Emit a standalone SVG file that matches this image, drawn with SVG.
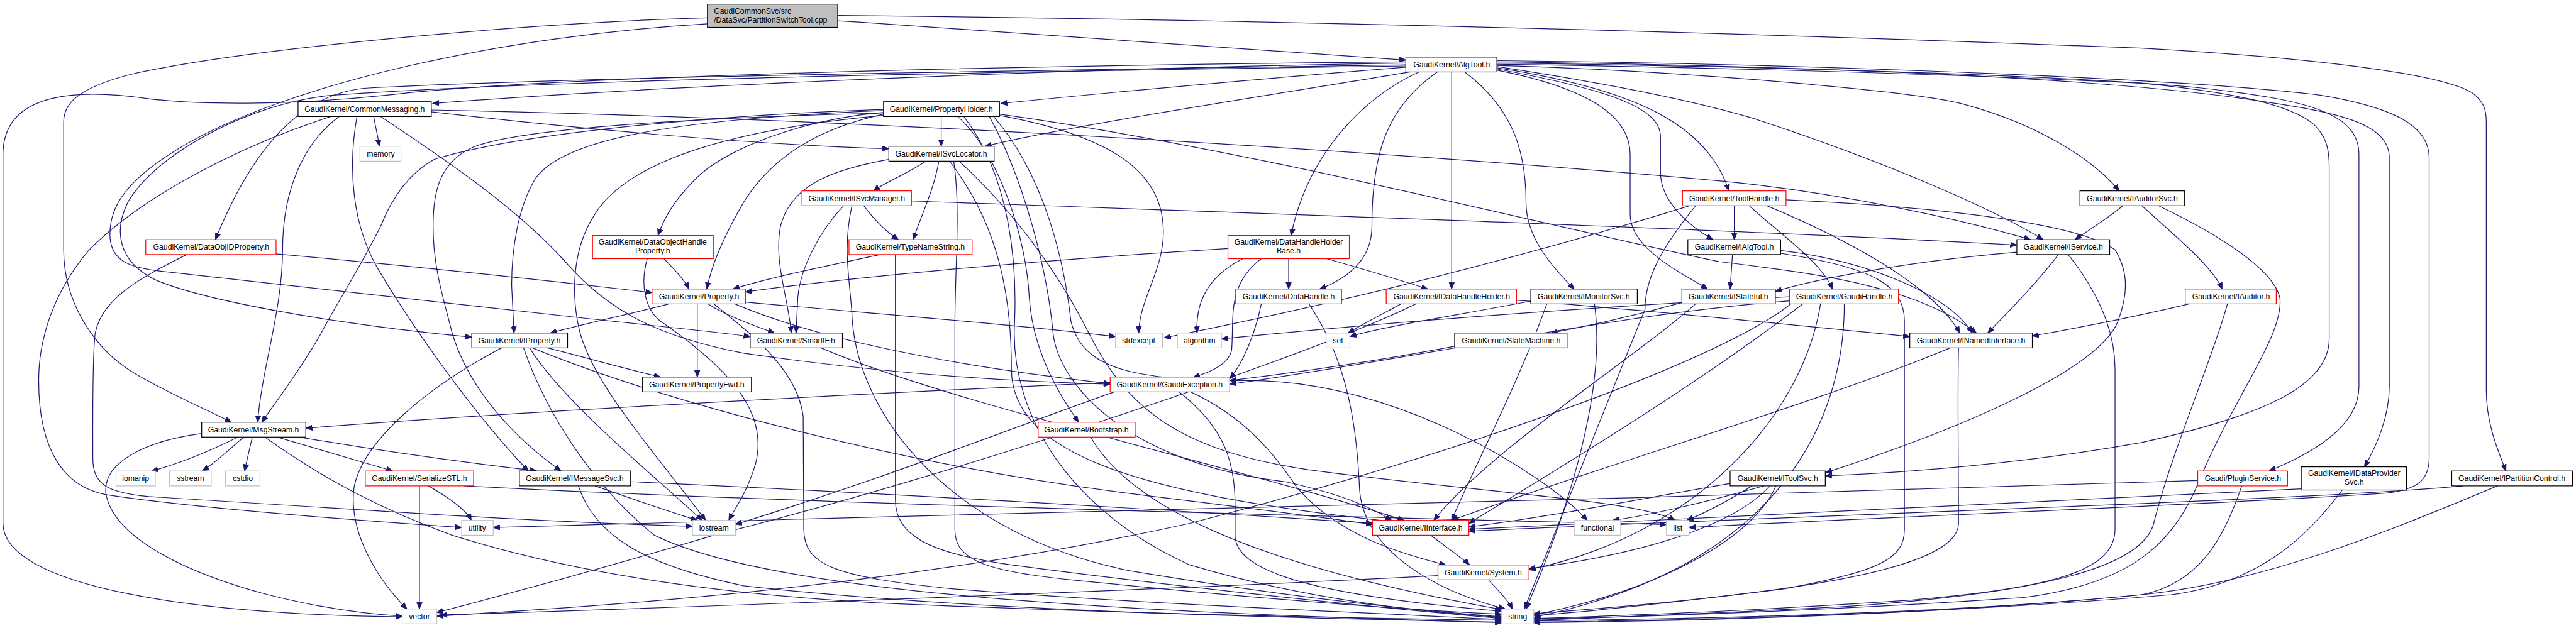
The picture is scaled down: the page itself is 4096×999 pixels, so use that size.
<svg xmlns="http://www.w3.org/2000/svg" width="4096" height="999" viewBox="0 0 4096 999">
<style>
.nd rect{fill:#fff;stroke:#000;stroke-width:1.3}
.rd rect{fill:#fff;stroke:#ff0000;stroke-width:1.3}
.gy rect{fill:#fff;stroke:#bfbfbf;stroke-width:1.3}
.rt rect{fill:#bfbfbf;stroke:#000;stroke-width:1.3}
text{font-family:"Liberation Sans",Arial,sans-serif;font-size:13px;text-anchor:middle;fill:#000}
.lt{text-anchor:start}
#edges path{fill:none;stroke:#191970;stroke-width:1.3;marker-end:url(#a)}
</style>
<defs>
<marker id="a" markerUnits="userSpaceOnUse" markerWidth="12" markerHeight="10" refX="11" refY="4.5" orient="auto" viewBox="0 0 12 9"><path d="M0,0L11,4.5L0,9z" fill="#191970" stroke="#191970" stroke-width="1"/></marker>
</defs>
<rect width="4096" height="999" fill="#fff"/>
<g transform="scale(0.946)">
<g id="edges">
<path d="M1408,35 C1800,60 2200,88 2363,101"/>
<path d="M1408,26 C2200,34 3000,58 3600,81 C3900,98 4110,125 4158,158 C4175,172 4179,185 4179,205 L4179,655 C4179,715 4200,760 4212,792"/>
<path d="M1189,30 C900,38 420,80 220,125 C130,148 107,175 107,205 L107,420 C107,510 160,590 230,630 C290,665 350,690 389,710"/>
<path d="M1189,40 C850,60 480,140 300,250 C210,305 182,350 185,400 C188,440 220,450 270,456 L1000,537 C1140,552 1220,560 1261,566"/>
<path d="M2363,106 C1800,115 1100,145 727,174"/>
<path d="M2363,113 C2150,130 1900,152 1682,174"/>
<path d="M2370,121 C2200,150 1800,210 1656,246"/>
<path d="M2363,109 C1800,118 1000,128 620,148 C500,155 420,260 362,403"/>
<path d="M2363,104 C1500,112 850,135 650,160 C480,178 330,176 250,166 C140,150 5,150 5,260 L5,880 C5,985 320,1034 676,1037"/>
<path d="M2363,111 C1700,120 900,135 560,160 C420,172 260,260 215,340 C190,390 200,440 260,470 C340,505 560,545 793,567"/>
<path d="M2385,121 C2300,160 2200,250 2170,396"/>
<path d="M2416,121 C2330,180 2306,260 2306,380 C2306,440 2260,470 2218,486"/>
<path d="M2440,121 L2440,486"/>
<path d="M2462,121 C2540,180 2565,250 2565,340 C2565,400 2610,450 2646,486"/>
<path d="M2516,118 C2680,150 2740,200 2740,260 L2740,360 C2740,420 2830,460 2870,486"/>
<path d="M2516,116 C2700,150 2791,180 2791,230 L2791,290 C2791,340 2840,380 2879,403"/>
<path d="M2516,114 C2750,150 2870,210 2906,321"/>
<path d="M2516,112 C2700,140 2850,170 2950,200 C3150,265 3350,350 3434,403"/>
<path d="M2516,110 C2800,118 3200,150 3300,175 C3430,210 3520,270 3562,321"/>
<path d="M2516,108 C3000,115 3400,130 3600,140 C3750,155 3850,175 3890,210 C3910,230 3915,250 3915,280 L3915,570 C3915,650 3800,700 3600,744 C3400,780 3200,795 3068,800"/>
<path d="M2516,106 C3000,112 3500,128 3700,148 C3880,168 3965,190 3965,260 L3965,650 C3965,720 3880,765 3814,792"/>
<path d="M2516,104 C3100,112 3550,132 3800,170 C3920,188 4016,205 4016,265 L4016,650 C4016,700 3995,750 3974,785"/>
<path d="M2516,102 C3100,108 3700,135 3900,160 C4020,180 4083,210 4083,265 L4083,770 C4083,810 4060,826 4000,830 C3700,850 3100,872 2839,887"/>
<path d="M628,196 L638,246"/>
<path d="M570,196 C510,240 475,320 475,420 C475,520 440,620 433,710"/>
<path d="M725,188 C1000,220 1300,245 1494,250"/>
<path d="M725,185 C1500,200 2400,260 2900,305 C3100,325 3300,370 3413,403"/>
<path d="M556,196 C420,240 250,320 150,420 C90,490 65,570 65,640 C65,760 110,820 180,832 C330,855 600,875 776,887"/>
<path d="M600,196 C585,280 590,380 640,460 C700,560 800,700 888,792"/>
<path d="M640,196 C720,250 860,340 950,440 C1020,520 1100,565 1250,594 C1500,630 1700,642 1866,646"/>
<path d="M464,427 C700,448 950,475 1096,492"/>
<path d="M314,428 C240,465 172,500 160,560 C155,600 156,700 156,770 C156,815 180,828 250,835 L730,865 C900,875 1050,882 1164,885"/>
<path d="M1582,196 L1582,246"/>
<path d="M1485,189 C1350,200 1220,250 1170,300 C1130,340 1115,370 1106,396"/>
<path d="M1485,192 C1380,215 1300,260 1250,340 C1215,400 1195,450 1188,486"/>
<path d="M1485,186 C1150,200 950,230 900,300 C870,350 860,420 860,480 L864,560"/>
<path d="M1485,184 C1150,195 850,230 730,268 C690,290 660,330 640,380 C600,460 560,520 540,560 C500,630 460,680 440,710"/>
<path d="M1610,196 C1680,260 1725,400 1730,500 C1735,580 1770,650 1813,710"/>
<path d="M1680,194 C1850,225 1950,280 1955,380 C1960,450 1915,500 1914,560"/>
<path d="M1485,194 C1200,220 1050,280 1000,360 C960,420 960,500 975,560 C1000,650 1100,760 1186,875"/>
<path d="M1485,190 C1100,200 850,220 790,250 C740,275 728,320 728,380 C728,450 745,500 760,560 C790,660 870,740 943,792"/>
<path d="M1680,192 C2100,250 2600,380 2890,440 C3050,460 3220,480 3322,560"/>
<path d="M1663,196 C1720,300 1760,450 1770,560 C1780,650 1900,780 2160,810 C2250,830 2300,850 2339,875"/>
<path d="M1670,196 C1760,300 1790,450 1800,540 C1820,620 1900,640 2100,640 C2350,640 2600,800 2668,875"/>
<path d="M1620,196 C1700,300 1710,450 1705,550 C1700,700 1800,860 2000,950 C2200,1010 2400,1030 2524,1038"/>
<path d="M1556,271 C1530,290 1490,305 1468,321"/>
<path d="M1578,271 C1570,320 1545,370 1535,403"/>
<path d="M1494,268 C1400,285 1330,310 1312,380 C1300,440 1325,500 1330,560"/>
<path d="M1596,271 C1680,380 1700,500 1700,620 C1700,760 1900,830 2340,877"/>
<path d="M1603,271 C1615,350 1605,450 1605,550 L1605,890 C1605,940 1650,960 1800,975 C2100,1005 2350,1025 2524,1033"/>
<path d="M1612,271 C1720,370 1790,480 1830,560 C1900,700 2000,760 2200,790 C2500,830 2750,840 2815,875"/>
<path d="M1452,346 C1470,370 1490,390 1510,403"/>
<path d="M1532,338 C2100,358 2900,385 3390,412"/>
<path d="M1418,346 C1380,385 1345,450 1341,500 L1338,560"/>
<path d="M1432,346 C1415,420 1430,480 1432,530 C1440,700 1600,900 1900,960 C2200,1010 2400,1028 2524,1037"/>
<path d="M1480,428 C1400,445 1300,465 1232,486"/>
<path d="M1505,428 C1505,500 1505,600 1505,700 L1505,840 C1505,900 1560,930 1700,950 C2000,990 2350,1025 2524,1040"/>
<path d="M1116,435 C1135,455 1150,470 1158,486"/>
<path d="M1088,435 C1075,480 1085,520 1110,540 C1240,630 1290,700 1270,780 C1255,830 1235,855 1225,875"/>
<path d="M1125,511 C1050,530 980,545 925,560"/>
<path d="M1172,511 L1172,634"/>
<path d="M1190,511 C1220,530 1260,545 1302,560"/>
<path d="M1253,508 C1500,530 1700,545 1875,566"/>
<path d="M1235,511 C1350,560 1550,610 1866,645"/>
<path d="M1200,511 C1260,560 1340,620 1350,700 L1351,890 C1352,950 1400,970 1600,990 C1900,1015 2300,1030 2524,1042"/>
<path d="M2166,435 L2166,486"/>
<path d="M2230,435 C2300,455 2350,470 2400,486"/>
<path d="M2064,418 C1700,440 1400,470 1253,491"/>
<path d="M2089,435 C2020,470 2010,520 2012,560"/>
<path d="M2120,435 C2060,480 2075,540 2070,590 C2065,610 2040,625 2006,634"/>
<path d="M2120,511 C2110,560 2090,610 2067,637"/>
<path d="M2200,511 C2260,600 2280,700 2285,820 C2290,920 2400,990 2530,1024"/>
<path d="M2355,511 C2320,530 2290,545 2266,560"/>
<path d="M2549,505 C2750,520 3000,545 3210,566"/>
<path d="M2380,511 C2200,600 1600,800 1200,900 C1000,960 850,1000 734,1030"/>
<path d="M2600,511 C2550,650 2480,780 2440,875"/>
<path d="M2580,505 C2450,530 2320,550 2269,566"/>
<path d="M2680,511 C2700,650 2640,850 2565,1024"/>
<path d="M2915,346 L2915,403"/>
<path d="M2940,346 C3000,400 3060,440 3080,486"/>
<path d="M3002,336 C3300,350 3500,380 3555,420 C3580,460 3575,500 3560,540 C3530,620 3300,720 3068,795"/>
<path d="M2970,346 C3100,400 3250,480 3294,560"/>
<path d="M2840,346 C2600,420 2300,500 1957,568"/>
<path d="M2850,346 C2790,420 2765,470 2765,520 L2562,1024"/>
<path d="M2912,428 L2908,486"/>
<path d="M2993,421 C3150,440 3280,500 3315,560"/>
<path d="M2993,426 C3150,450 3201,480 3201,540 L3201,890 C3201,940 3160,960 3000,990 C2800,1015 2650,1030 2578,1035"/>
<path d="M2850,511 C2750,600 2500,760 2410,875"/>
<path d="M2830,508 C2750,530 2670,548 2607,560"/>
<path d="M3008,506 C2700,530 2400,600 2067,646"/>
<path d="M3030,511 C2850,650 2600,800 2469,880"/>
<path d="M3060,511 C3030,700 2850,900 2570,958"/>
<path d="M3100,511 C3100,700 3000,950 2578,1038"/>
<path d="M3010,511 C2900,600 2500,750 2000,880 C1500,990 1000,1020 734,1036"/>
<path d="M3008,499 C2600,520 2300,545 2053,570"/>
<path d="M3390,424 C3200,440 3050,470 2984,490"/>
<path d="M3460,428 C3420,480 3370,530 3341,560"/>
<path d="M3476,428 C3510,470 3555,540 3555,620 L3555,890 C3555,960 3450,990 3200,1010 C2900,1030 2700,1036 2578,1040"/>
<path d="M3568,346 C3540,370 3505,390 3488,403"/>
<path d="M3600,346 C3660,400 3720,450 3735,486"/>
<path d="M3628,346 C3720,390 3820,450 3832,500 C3840,560 3760,660 3700,800 C3660,900 3600,980 3400,1005 C3100,1025 2800,1036 2578,1041"/>
<path d="M3680,511 C3600,530 3500,550 3416,565"/>
<path d="M3744,511 C3720,600 3650,760 3620,880 C3600,960 3400,1000 3100,1020 C2850,1033 2650,1040 2578,1043"/>
<path d="M400,735 C350,760 300,780 255,792"/>
<path d="M410,735 C380,760 360,780 340,792"/>
<path d="M424,735 L411,792"/>
<path d="M466,735 C550,760 620,780 660,792"/>
<path d="M503,735 C650,760 800,780 902,792"/>
<path d="M339,729 C240,742 172,780 178,830 C190,900 300,960 450,1000 C550,1025 620,1033 676,1036"/>
<path d="M445,735 C550,810 650,860 760,900 C950,960 1200,1000 1500,1015 C1900,1032 2300,1040 2524,1043"/>
<path d="M705,817 L705,1024"/>
<path d="M720,817 C760,840 785,860 792,875"/>
<path d="M780,817 C1300,845 2200,868 2801,882"/>
<path d="M1000,817 C1080,845 1140,865 1172,875"/>
<path d="M972,817 C1000,900 1080,950 1250,985 C1600,1025 2100,1038 2524,1046"/>
<path d="M1060,810 C1500,830 2000,860 2307,880"/>
<path d="M920,585 C980,600 1050,620 1110,634"/>
<path d="M890,585 C950,680 1100,800 1180,875"/>
<path d="M880,585 C920,700 1000,820 1100,900 C1300,1000 1900,1030 2524,1047"/>
<path d="M895,585 C1100,670 1500,780 1900,830 C2100,855 2230,870 2307,882"/>
<path d="M843,585 C720,650 610,740 595,820 C585,900 640,980 684,1024"/>
<path d="M1380,585 C1600,680 2100,790 2360,875"/>
<path d="M1866,643 C1500,660 900,690 514,720"/>
<path d="M1873,659 C1700,720 1500,800 1236,882"/>
<path d="M1982,659 C2060,720 2076,780 2076,850 L2076,900 C2076,960 2200,1000 2524,1028"/>
<path d="M2001,659 C2090,700 2140,760 2180,820 C2250,900 2350,930 2430,950"/>
<path d="M1833,735 C1900,850 2100,950 2524,1025"/>
<path d="M2446,582 C2300,610 2150,630 2067,640"/>
<path d="M2405,900 C2430,920 2460,940 2470,950"/>
<path d="M2502,975 C2520,995 2535,1010 2542,1024"/>
<path d="M2417,968 C2000,990 1200,1020 741,1034"/>
<path d="M3278,585 C3050,680 2700,780 2440,875"/>
<path d="M3292,585 C3290,650 3292,800 3292,880 C3292,960 3000,1000 2578,1032"/>
<path d="M2908,813 C2750,840 2600,870 2469,886"/>
<path d="M2945,817 C2900,845 2860,865 2835,875"/>
<path d="M2965,817 C2850,850 2750,870 2710,875"/>
<path d="M2975,817 C2900,900 2700,940 2570,956"/>
<path d="M2985,817 C2950,900 2800,990 2578,1034"/>
<path d="M3694,808 C3000,830 2000,860 1450,870 C1100,878 950,883 829,887"/>
<path d="M3768,817 C3740,900 3700,980 3600,1000 C3300,1030 2900,1040 2578,1044"/>
<path d="M3868,822 C3500,840 3000,860 2469,890"/>
<path d="M3937,824 C3880,900 3800,980 3650,1000 C3300,1030 2900,1042 2578,1046"/>
<path d="M4140,817 C3900,840 3200,860 2469,893"/>
<path d="M4198,817 C4000,900 3800,980 3600,1000 C3300,1030 2900,1044 2578,1047"/>
</g>
<g id="n_root" class="rt"><rect x="1189" y="7" width="219" height="39"/><text class="lt" x="1200" y="23">GaudiCommonSvc/src</text><text class="lt" x="1200" y="38">/DataSvc/PartitionSwitchTool.cpp</text></g>
<g id="n_AlgTool" class="nd"><rect x="2363" y="96" width="153" height="25"/><text x="2440" y="113">GaudiKernel/AlgTool.h</text></g>
<g id="n_CommonMessaging" class="nd"><rect x="501" y="171" width="224" height="25"/><text x="613" y="188">GaudiKernel/CommonMessaging.h</text></g>
<g id="n_memory" class="gy"><rect x="605" y="246" width="69" height="25"/><text x="640" y="263">memory</text></g>
<g id="n_DataObjIDProperty" class="rd"><rect x="245" y="403" width="219" height="25"/><text x="355" y="420">GaudiKernel/DataObjIDProperty.h</text></g>
<g id="n_PropertyHolder" class="nd"><rect x="1485" y="171" width="195" height="25"/><text x="1582" y="188">GaudiKernel/PropertyHolder.h</text></g>
<g id="n_ISvcLocator" class="nd"><rect x="1494" y="246" width="177" height="25"/><text x="1582" y="263">GaudiKernel/ISvcLocator.h</text></g>
<g id="n_ISvcManager" class="rd"><rect x="1348" y="321" width="184" height="25"/><text x="1440" y="338">GaudiKernel/ISvcManager.h</text></g>
<g id="n_TypeNameString" class="rd"><rect x="1427" y="403" width="207" height="25"/><text x="1530" y="420">GaudiKernel/TypeNameString.h</text></g>
<g id="n_DataObjectHandleProperty" class="rd"><rect x="996" y="396" width="203" height="39"/><text x="1097" y="411">GaudiKernel/DataObjectHandle</text><text x="1097" y="426">Property.h</text></g>
<g id="n_Property" class="rd"><rect x="1096" y="486" width="157" height="25"/><text x="1175" y="503">GaudiKernel/Property.h</text></g>
<g id="n_DataHandleHolderBase" class="rd"><rect x="2064" y="396" width="204" height="39"/><text x="2166" y="411">GaudiKernel/DataHandleHolder</text><text x="2166" y="426">Base.h</text></g>
<g id="n_DataHandle" class="rd"><rect x="2077" y="486" width="178" height="25"/><text x="2166" y="503">GaudiKernel/DataHandle.h</text></g>
<g id="n_IDataHandleHolder" class="rd"><rect x="2330" y="486" width="219" height="25"/><text x="2440" y="503">GaudiKernel/IDataHandleHolder.h</text></g>
<g id="n_IMonitorSvc" class="nd"><rect x="2573" y="486" width="179" height="25"/><text x="2662" y="503">GaudiKernel/IMonitorSvc.h</text></g>
<g id="n_ToolHandle" class="rd"><rect x="2828" y="321" width="174" height="25"/><text x="2915" y="338">GaudiKernel/ToolHandle.h</text></g>
<g id="n_IAlgTool" class="nd"><rect x="2837" y="403" width="156" height="25"/><text x="2915" y="420">GaudiKernel/IAlgTool.h</text></g>
<g id="n_IStateful" class="nd"><rect x="2827" y="486" width="157" height="25"/><text x="2905" y="503">GaudiKernel/IStateful.h</text></g>
<g id="n_GaudiHandle" class="rd"><rect x="3008" y="486" width="183" height="25"/><text x="3100" y="503">GaudiKernel/GaudiHandle.h</text></g>
<g id="n_IService" class="nd"><rect x="3390" y="403" width="156" height="25"/><text x="3468" y="420">GaudiKernel/IService.h</text></g>
<g id="n_IAuditorSvc" class="nd"><rect x="3496" y="321" width="176" height="25"/><text x="3584" y="338">GaudiKernel/IAuditorSvc.h</text></g>
<g id="n_IAuditor" class="rd"><rect x="3673" y="486" width="153" height="25"/><text x="3750" y="503">GaudiKernel/IAuditor.h</text></g>
<g id="n_MsgStream" class="nd"><rect x="339" y="710" width="175" height="25"/><text x="426" y="727">GaudiKernel/MsgStream.h</text></g>
<g id="n_iomanip" class="gy"><rect x="195" y="792" width="66" height="25"/><text x="228" y="809">iomanip</text></g>
<g id="n_sstream" class="gy"><rect x="285" y="792" width="70" height="25"/><text x="320" y="809">sstream</text></g>
<g id="n_cstdio" class="gy"><rect x="379" y="792" width="58" height="25"/><text x="408" y="809">cstdio</text></g>
<g id="n_SerializeSTL" class="rd"><rect x="614" y="792" width="182" height="25"/><text x="705" y="809">GaudiKernel/SerializeSTL.h</text></g>
<g id="n_vector" class="gy"><rect x="676" y="1024" width="58" height="25"/><text x="705" y="1041">vector</text></g>
<g id="n_IProperty" class="nd"><rect x="793" y="560" width="161" height="25"/><text x="873" y="577">GaudiKernel/IProperty.h</text></g>
<g id="n_SmartIF" class="nd"><rect x="1261" y="560" width="155" height="25"/><text x="1338" y="577">GaudiKernel/SmartIF.h</text></g>
<g id="n_PropertyFwd" class="nd"><rect x="1080" y="634" width="183" height="25"/><text x="1171" y="651">GaudiKernel/PropertyFwd.h</text></g>
<g id="n_IMessageSvc" class="nd"><rect x="873" y="792" width="187" height="25"/><text x="966" y="809">GaudiKernel/IMessageSvc.h</text></g>
<g id="n_utility" class="gy"><rect x="776" y="875" width="53" height="25"/><text x="802" y="892">utility</text></g>
<g id="n_iostream" class="gy"><rect x="1164" y="875" width="72" height="25"/><text x="1200" y="892">iostream</text></g>
<g id="n_stdexcept" class="gy"><rect x="1875" y="560" width="79" height="25"/><text x="1914" y="577">stdexcept</text></g>
<g id="n_algorithm" class="gy"><rect x="1979" y="560" width="74" height="25"/><text x="2016" y="577">algorithm</text></g>
<g id="n_GaudiException" class="rd"><rect x="1866" y="634" width="201" height="25"/><text x="1966" y="651">GaudiKernel/GaudiException.h</text></g>
<g id="n_Bootstrap" class="rd"><rect x="1745" y="710" width="163" height="25"/><text x="1826" y="727">GaudiKernel/Bootstrap.h</text></g>
<g id="n_set" class="gy"><rect x="2229" y="560" width="40" height="25"/><text x="2249" y="577">set</text></g>
<g id="n_StateMachine" class="nd"><rect x="2445" y="560" width="189" height="25"/><text x="2540" y="577">GaudiKernel/StateMachine.h</text></g>
<g id="n_IInterface" class="rd"><rect x="2307" y="875" width="162" height="25"/><text x="2388" y="892">GaudiKernel/IInterface.h</text></g>
<g id="n_functional" class="gy"><rect x="2646" y="875" width="78" height="25"/><text x="2685" y="892">functional</text></g>
<g id="n_list" class="gy"><rect x="2801" y="875" width="38" height="25"/><text x="2820" y="892">list</text></g>
<g id="n_System" class="rd"><rect x="2417" y="950" width="153" height="25"/><text x="2493" y="967">GaudiKernel/System.h</text></g>
<g id="n_string" class="gy"><rect x="2524" y="1024" width="54" height="25"/><text x="2551" y="1041">string</text></g>
<g id="n_INamedInterface" class="nd"><rect x="3210" y="560" width="206" height="25"/><text x="3313" y="577">GaudiKernel/INamedInterface.h</text></g>
<g id="n_IToolSvc" class="nd"><rect x="2908" y="792" width="160" height="25"/><text x="2988" y="809">GaudiKernel/IToolSvc.h</text></g>
<g id="n_PluginService" class="rd"><rect x="3694" y="792" width="151" height="25"/><text x="3770" y="809">Gaudi/PluginService.h</text></g>
<g id="n_IDataProviderSvc" class="nd"><rect x="3868" y="785" width="177" height="39"/><text x="3957" y="800">GaudiKernel/IDataProvider</text><text x="3957" y="815">Svc.h</text></g>
<g id="n_IPartitionControl" class="nd"><rect x="4121" y="792" width="203" height="25"/><text x="4222" y="809">GaudiKernel/IPartitionControl.h</text></g>
</g>
</svg>
